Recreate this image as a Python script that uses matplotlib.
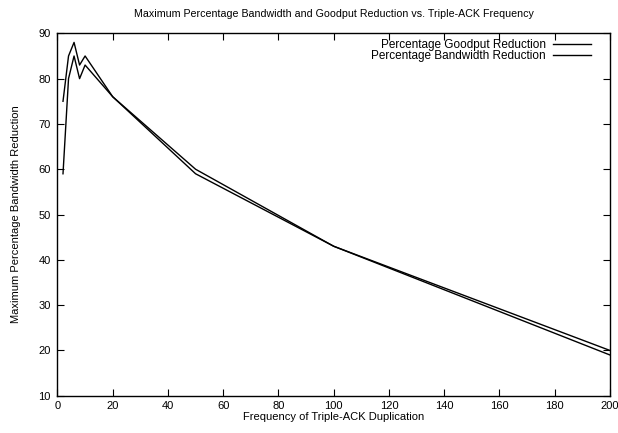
import matplotlib.pyplot as plt

plt.rcParams["font.family"] = ["Liberation Sans", "DejaVu Sans"]

frequency = [2, 4, 6, 8, 10, 20, 50, 100, 200]
goodput_reduction = [75, 85, 88, 83, 85, 76, 60, 43, 20]
bandwidth_reduction = [59, 80, 85, 80, 83, 76, 59, 43, 19]

x_ticks = list(range(0, 201, 20))
y_ticks = list(range(10, 91, 10))


def main() -> None:
    fig = plt.figure(figsize=(6.18, 4.33), dpi=100)
    ax = fig.add_axes([0.093, 0.086, 0.894, 0.837])

    ax.plot(frequency, goodput_reduction, color="black", linewidth=1.0,
            label="Percentage Goodput Reduction")
    ax.plot(frequency, bandwidth_reduction, color="black", linewidth=1.0,
            label="Percentage Bandwidth Reduction")

    ax.set_xlim(0, 200)
    ax.set_ylim(10, 90)
    ax.set_xticks(x_ticks)
    ax.set_yticks(y_ticks)
    ax.tick_params(direction="in", top=True, right=True, length=5,
                   width=0.8, labelsize=8, pad=5)
    ax.tick_params(axis="x", pad=3.5)
    for spine in ax.spines.values():
        spine.set_linewidth(1.0)

    ax.set_title(
        "Maximum Percentage Bandwidth and Goodput Reduction vs. Triple-ACK Frequency",
        fontsize=7.7,
        pad=12,
    )
    ax.set_xlabel("Frequency of Triple-ACK Duplication", fontsize=8, labelpad=1)
    ax.set_ylabel("Maximum Percentage Bandwidth Reduction", fontsize=8, labelpad=12)

    ax.legend(
        loc="upper right",
        bbox_to_anchor=(0.98, 1.006),
        markerfirst=False,
        frameon=False,
        fontsize=8.5,
        handlelength=3.2,
        handletextpad=0.6,
        labelspacing=-0.12,
        borderaxespad=0.3,
    )

    fig.savefig("out.png", dpi=100)
    plt.close(fig)


if __name__ == "__main__":
    main()
